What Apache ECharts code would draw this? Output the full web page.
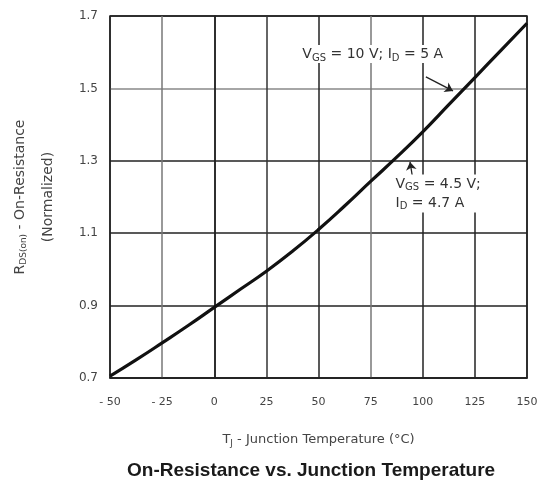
<!DOCTYPE html>
<html><head><meta charset="utf-8">
<script src="https://cdn.jsdelivr.net/npm/echarts@6/dist/echarts.min.js"></script>
<style>html,body{margin:0;padding:0;background:#fff}#c{width:545px;height:480px}</style>
</head><body><div id="c"></div>
<script>
const temps = [-50, -37.5, -25, -12.5, 0, 12.5, 25, 37.5, 50, 62.5, 75, 87.5, 100, 112.5, 125, 137.5, 150];
const rdsOn = [0.705, 0.75, 0.797, 0.845, 0.895, 0.945, 0.995, 1.05, 1.11, 1.175, 1.243, 1.31, 1.38, 1.455, 1.53, 1.605, 1.68];
const xTicks = [-50, -25, 0, 25, 50, 75, 100, 125, 150];
const xTickLabels = ['- 50', '- 25', '0', '25', '50', '75', '100', '125', '150'];
const yTickLabels = ['0.7', '0.9', '1.1', '1.3', '1.5', '1.7'];
const arrow1 = [[101.5, 1.532], [114.5, 1.493]];
const arrow2 = [[95.3, 1.247], [93.9, 1.297]];
const note1Pos = [76, 1.595];
const note2Pos = [85.5, 1.21];

const FONT = '"DejaVu Sans", "Liberation Sans", Arial, sans-serif';
const chart = echarts.init(document.getElementById('c'), null, {renderer: 'canvas'});
const sub = {fontSize: 10, padding: [8, 0, 0, 0], fontFamily: FONT, color: '#333'};
chart.setOption({
  animation: false,
  backgroundColor: '#fff',
  title: {
    text: 'On-Resistance vs. Junction Temperature',
    left: 122, top: 456,
    textStyle: {fontFamily: '"Liberation Sans", Arial, sans-serif', fontSize: 19, fontWeight: 'bold', color: '#1a1a1a'}
  },
  grid: {left: 110, right: 18, top: 16, bottom: 102, show: true, borderColor: '#222', borderWidth: 1.5, containLabel: false, outerBoundsMode: 'none'},
  xAxis: {
    type: 'value', min: -50, max: 150, interval: 25,
    axisLine: {show: true, lineStyle: {color: '#222', width: 1.5}},
    axisTick: {show: false},
    axisLabel: {
      margin: 19, fontFamily: FONT, fontSize: 11, color: '#444',
      formatter: v => { const i = xTicks.indexOf(v); return i >= 0 ? xTickLabels[i] : ''; }
    },
    splitLine: {show: true, lineStyle: {color: ['#222', '#777', '#222', '#333', '#222', '#777', '#222', '#222', '#222'], width: 1.5}},
    name: 'T{s|J} - Junction Temperature (°C)', nameLocation: 'middle', nameGap: 54,
    nameTextStyle: {fontFamily: FONT, fontSize: 13, color: '#444', rich: {s: {fontFamily: FONT, fontSize: 9, color: '#444', padding: [7, 0, 0, 0]}}}
  },
  yAxis: {
    type: 'value', min: 0.7, max: 1.7, interval: 0.2,
    axisLine: {show: true, lineStyle: {color: '#222', width: 1.5}},
    axisTick: {show: false},
    axisLabel: {
      margin: 12, fontFamily: FONT, fontSize: 12, color: '#444',
      formatter: v => { const i = Math.round((v - 0.7) / 0.2); return yTickLabels[i] || ''; }
    },
    splitLine: {show: true, lineStyle: {color: ['#222', '#222', '#222', '#222', '#888', '#222'], width: 1.5}},
    name: 'R{s|DS(on)} - On-Resistance\n(Normalized)', nameLocation: 'middle', nameGap: 48, nameRotate: 90,
    nameTextStyle: {fontFamily: FONT, fontSize: 14, color: '#444', lineHeight: 28, align: 'center',
      rich: {s: {fontFamily: FONT, fontSize: 9, color: '#444', lineHeight: 28, padding: [8, 0, 0, 0]}}}
  },
  series: [{
    type: 'line', smooth: true, symbol: 'none',
    data: temps.map((t, i) => [t, rdsOn[i]]),
    lineStyle: {color: '#111', width: 3.2},
    markLine: {
      silent: true, symbol: ['none', 'arrow'], symbolSize: 8,
      label: {show: false},
      lineStyle: {color: '#222', width: 1.3, type: 'solid', curveness: 0.35},
      data: [
        [{coord: arrow1[0]}, {coord: arrow1[1]}],
        [{coord: arrow2[0], lineStyle: {curveness: 0}}, {coord: arrow2[1]}]
      ]
    },
    markPoint: {
      silent: true, symbol: 'circle', symbolSize: 0,
      label: {show: true, fontFamily: FONT, fontSize: 14, color: '#333', rich: {s: sub}},
      data: [
        {coord: note1Pos, label: {formatter: 'V{s|GS} = 10 V; I{s|D} = 5 A', align: 'center', backgroundColor: '#fff', padding: [0, 3, 0, 3]}},
        {coord: note2Pos, label: {formatter: 'V{s|GS} = 4.5 V;\nI{s|D} = 4.7 A', align: 'left', lineHeight: 19, backgroundColor: '#fff', padding: [0, 3, 0, 3]}}
      ]
    }
  }]
});
</script></body></html>
